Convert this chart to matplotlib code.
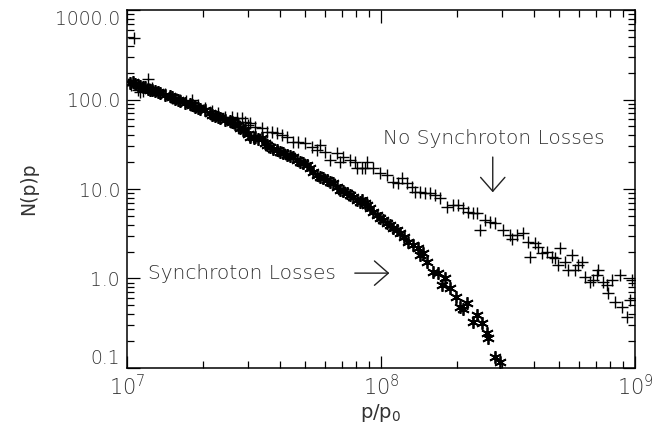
import matplotlib
matplotlib.use("Agg")
import matplotlib.pyplot as plt
from matplotlib.ticker import LogLocator, FixedLocator, FixedFormatter, NullFormatter

# Synchrotron losses (asterisk markers)
sync_p = [1.028e7, 1.056e7, 1.075e7, 1.105e7, 1.125e7, 1.156e7, 1.177e7, 1.21e7, 1.232e7, 1.254e7,
          1.289e7, 1.325e7, 1.349e7, 1.412e7, 1.477e7, 1.504e7, 1.545e7, 1.588e7, 1.617e7, 1.691e7,
          1.770e7, 1.803e7, 1.853e7, 1.904e7, 1.937e7, 2.028e7, 2.122e7, 2.161e7, 2.22e7, 2.28e7,
          2.324e7, 2.43e7, 2.544e7, 2.59e7, 2.66e7, 2.735e7, 2.786e7, 2.87e7, 2.915e7, 2.995e7,
          3.05e7, 3.15e7, 3.19e7, 3.28e7, 3.40e7, 3.49e7, 3.56e7, 3.66e7, 3.76e7, 3.90e7,
          4.00e7, 4.12e7, 4.27e7, 4.38e7, 4.50e7, 4.67e7, 4.80e7, 4.93e7, 5.11e7, 5.25e7,
          5.40e7, 5.60e7, 5.75e7, 5.91e7, 6.13e7, 6.30e7, 6.47e7, 6.71e7, 6.90e7, 7.08e7,
          7.35e7, 7.55e7, 7.76e7, 8.05e7, 8.27e7, 8.42e7, 8.65e7, 8.81e7, 9.06e7, 9.31e7,
          9.64e7, 9.91e7, 1.018e8, 1.056e8, 1.085e8, 1.115e8, 1.155e8, 1.188e8, 1.23e8, 1.277e8,
          1.337e8, 1.40e8, 1.425e8, 1.463e8, 1.517e8, 1.603e8, 1.675e8, 1.738e8, 1.786e8, 1.87e8,
          1.973e8, 2.046e8, 2.10e8, 2.18e8, 2.30e8, 2.39e8, 2.50e8, 2.61e8, 2.64e8, 2.81e8, 2.94e8]
sync_n = [153, 157, 149, 145, 141, 138, 138, 131, 128, 128,
          124, 121, 118, 112, 109, 106.6, 101, 98.7, 96, 91.4,
          89, 86.9, 82.4, 80.4, 78.3, 76.3, 70.6, 67.1, 65.4, 63.7,
          62.1, 59.0, 57.5, 56.1, 53.2, 51.9, 48.1, 45.6, 45.6, 41.2,
          38.1, 37.2, 38.1, 36.3, 37.2, 32.7, 31.0, 29.5, 28.0, 27.3,
          25.9, 25.2, 24.0, 23.4, 22.8, 21.1, 20.0, 19.5, 18.5, 17.2,
          15.5, 14.3, 13.6, 13.3, 12.6, 12.0, 11.7, 10.5, 9.75, 9.5,
          9.02, 8.57, 8.14, 7.53, 7.16, 7.53, 6.98, 6.63, 6.14, 5.54,
          5.15, 4.74, 4.51, 4.17, 3.95, 3.66, 3.48, 3.22, 2.91, 2.56,
          2.37, 2.19, 1.83, 1.93, 1.53, 1.18, 1.15, 0.846, 1.014, 0.783,
          0.621, 0.481, 0.456, 0.532, 0.327, 0.391, 0.318, 0.246, 0.216, 0.133, 0.117]

# No synchrotron losses (plus markers)
nosync_p = [1.065e7, 1.036e7, 1.105e7, 1.125e7, 1.156e7, 1.21e7, 1.254e7, 1.325e7, 1.412e7, 1.504e7,
            1.617e7, 1.71e7, 1.803e7, 1.904e7, 2.028e7, 2.161e7, 2.28e7, 2.43e7, 2.59e7, 2.71e7,
            2.84e7, 2.915e7, 2.995e7, 3.05e7, 3.19e7, 3.40e7, 3.56e7, 3.72e7, 3.90e7, 4.08e7,
            4.27e7, 4.50e7, 4.71e7, 5.02e7, 5.35e7, 5.60e7, 5.75e7, 6.02e7, 6.30e7, 6.71e7,
            6.90e7, 7.08e7, 7.55e7, 7.90e7, 8.05e7, 8.42e7, 8.65e7, 8.81e7, 9.31e7, 9.91e7,
            1.056e8, 1.115e8, 1.166e8, 1.21e8, 1.265e8, 1.325e8, 1.361e8, 1.425e8, 1.49e8, 1.559e8,
            1.632e8, 1.707e8, 1.82e8, 1.92e8, 2.01e8, 2.10e8, 2.20e8, 2.30e8, 2.39e8, 2.455e8,
            2.57e8, 2.685e8, 2.81e8, 3.02e8, 3.22e8, 3.28e8, 3.43e8, 3.62e8, 3.79e8, 3.86e8,
            4.04e8, 4.15e8, 4.31e8, 4.51e8, 4.71e8, 4.84e8, 4.98e8, 5.07e8, 5.30e8, 5.45e8,
            5.65e8, 5.81e8, 5.97e8, 6.18e8, 6.35e8, 6.65e8, 6.84e8, 7.08e8, 7.15e8, 7.48e8,
            7.76e8, 7.83e8, 8.11e8, 8.34e8, 8.73e8, 8.89e8, 9.31e8, 9.55e8, 9.73e8]
nosync_n = [486, 147, 128, 121, 124, 169, 134, 121, 115, 104,
            98.7, 96, 98.7, 86.9, 80.4, 74.4, 70.6, 63.7, 63.7, 62.1,
            62.1, 56.1, 51.9, 54.6, 49.3, 48.1, 43.4, 43.4, 42.3, 40.1,
            38.1, 33.5, 33.5, 32.7, 29.5, 27.3, 31.0, 25.9, 21.1, 25.2,
            20.0, 22.8, 21.1, 20.0, 17.2, 17.2, 17.2, 20.0, 17.2, 15.1,
            14.3, 12.0, 11.7, 13.3, 11.7, 10.5, 9.25, 9.25, 9.02, 9.02,
            8.57, 7.93, 6.30, 6.63, 6.63, 6.14, 5.54, 5.40, 5.40, 3.48,
            4.51, 4.28, 4.17, 3.48, 3.06, 2.76, 3.06, 3.22, 2.56, 1.74,
            2.49, 2.25, 1.93, 1.98, 1.74, 1.69, 1.42, 2.19, 1.53, 1.245,
            1.83, 1.245, 1.42, 1.53, 1.04, 0.914, 0.962, 1.094, 1.245, 0.914,
            0.846, 0.689, 0.962, 0.546, 1.094, 0.481, 0.372, 0.575, 0.962]

y_ticks = [0.1, 1.0, 10.0, 100.0, 1000.0]
y_tick_labels = ["0.1", "1.0", "10.0", "100.0", "1000.0"]
x_ticks = [1e7, 1e8, 1e9]
x_tick_labels = [r"$\mathregular{10^{7}}$", r"$\mathregular{10^{8}}$", r"$\mathregular{10^{9}}$"]

label_color = "#333333"
plt.rcParams["mathtext.fontset"] = "custom"
plt.rcParams["mathtext.rm"] = "DejaVu Sans:light"
plt.rcParams["font.family"] = "DejaVu Sans"
plt.rcParams["font.weight"] = "light"

fig = plt.figure(figsize=(6.53, 4.36), dpi=100)
ax = fig.add_axes([0.1945, 0.156, 0.7779, 0.821])

ax.plot(nosync_p, nosync_n, linestyle="none", marker="+", markersize=8,
        markeredgewidth=1.0, color="black")
ax.plot(sync_p, sync_n, linestyle="none", marker=(6, 2, 0), markersize=9,
        markeredgewidth=1.3, color="black")

ax.set_xscale("log")
ax.set_yscale("log")
ax.set_xlim(1e7, 1e9)
ax.set_ylim(0.1, 1000)

ax.yaxis.set_major_locator(FixedLocator(y_ticks))
ax.yaxis.set_major_formatter(FixedFormatter(y_tick_labels))
ax.yaxis.set_minor_locator(LogLocator(base=10, subs=range(2, 10), numticks=20))
ax.yaxis.set_minor_formatter(NullFormatter())
ax.xaxis.set_major_locator(FixedLocator(x_ticks))
ax.xaxis.set_major_formatter(FixedFormatter(x_tick_labels))
ax.xaxis.set_minor_locator(LogLocator(base=10, subs=range(2, 10), numticks=20))
ax.xaxis.set_minor_formatter(NullFormatter())

ax.tick_params(which="both", direction="in", top=True, right=True, color="black", width=0.9)
ax.tick_params(which="major", length=9)
ax.tick_params(which="minor", length=5)
ax.tick_params(axis="y", which="major", labelsize=13.5, labelcolor=label_color, pad=5)
ax.tick_params(axis="x", which="major", labelsize=15, labelcolor=label_color, pad=4)
for s in ax.spines.values():
    s.set_linewidth(1.1)

ax.set_ylabel("N(p)p", fontsize=13.5, color=label_color, labelpad=12)
ax.set_xlabel(r"p/p$_\mathregular{0}$", fontsize=14, color=label_color, labelpad=2)

ax.text(0.504, 0.640, "No Synchroton Losses", transform=ax.transAxes, fontsize=14.5,
        color=label_color, ha="left", va="center")
ax.annotate("", xy=(0.720, 0.483), xytext=(0.720, 0.597), xycoords="axes fraction",
            arrowprops=dict(arrowstyle="->,head_length=0.4,head_width=0.35",
                            color="#222222", lw=1.0, mutation_scale=25))
ax.text(0.041, 0.265, "Synchroton Losses", transform=ax.transAxes, fontsize=14.5,
        color=label_color, ha="left", va="center")
ax.annotate("", xy=(0.522, 0.265), xytext=(0.443, 0.265), xycoords="axes fraction",
            arrowprops=dict(arrowstyle="->,head_length=0.4,head_width=0.35",
                            color="#222222", lw=1.0, mutation_scale=25))

# Keep the extreme y labels inside the axis span, as in the reference
yticks = ax.yaxis.get_major_ticks()
yticks[0].label1.set_verticalalignment("bottom")
yticks[-1].label1.set_verticalalignment("top")

fig.savefig("out.png", dpi=100)
